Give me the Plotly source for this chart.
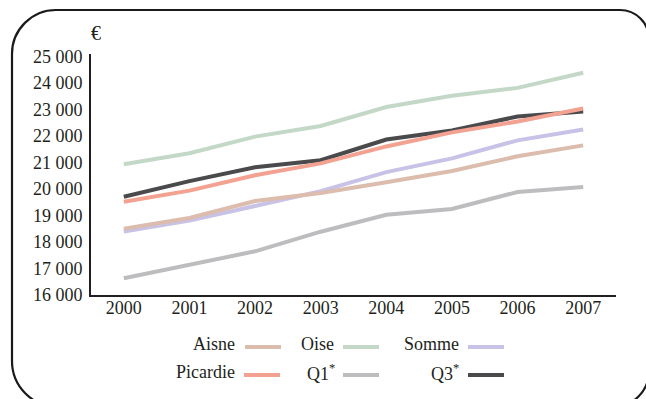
import plotly.graph_objects as go

years = [2000, 2001, 2002, 2003, 2004, 2005, 2006, 2007]
aisne = [18500, 18910, 19550, 19850, 20260, 20680, 21240, 21650]
oise = [20940, 21350, 21980, 22380, 23100, 23520, 23820, 24390]
somme = [18400, 18810, 19360, 19920, 20640, 21160, 21840, 22250]
picardie = [19520, 19940, 20520, 20970, 21610, 22140, 22550, 23040]
q1 = [16630, 17150, 17650, 18390, 19030, 19250, 19890, 20080]
q3 = [19710, 20300, 20820, 21090, 21870, 22210, 22740, 22930]
ytick_vals = [16000, 17000, 18000, 19000, 20000, 21000, 22000, 23000, 24000, 25000]
ytick_text = ["16 000", "17 000", "18 000", "19 000", "20 000", "21 000", "22 000", "23 000", "24 000", "25 000"]

C_AISNE = "#dcbcad"
C_OISE = "#c4d8c7"
C_SOMME = "#c7c2e6"
C_PIC = "#f3a292"
C_Q1 = "#bdbdbf"
C_Q3 = "#4a4a4c"
TXT = "#231f20"
FONT = "'Liberation Serif', 'Times New Roman', Times, serif"

W, H = 646, 399
L, R, T, B = 91, 30, 54, 104
PW, PH = W - L - R, H - T - B


def px(x):
    return (x - L) / PW


def py(y):
    return (H - B - y) / PH


fig = go.Figure()
order = [("Q1*", q1, C_Q1), ("Q3*", q3, C_Q3), ("Oise", oise, C_OISE),
         ("Somme", somme, C_SOMME), ("Aisne", aisne, C_AISNE), ("Picardie", picardie, C_PIC)]
for name, vals, col in order:
    fig.add_trace(go.Scatter(x=years, y=vals, mode="lines", name=name,
                             line=dict(color=col, width=4), showlegend=False, hoverinfo="skip"))

shapes = []
left, top, right, bottom = 12, 10, 649, 407
rtl, rtr, rbl, rbr = 44, 29, 46, 36
k = 0.5523


def P(x, y):
    return f"{px(x):.5f},{py(y):.5f}"


path = (f"M {P(left, bottom - rbl)} L {P(left, top + rtl)} "
        f"C {P(left, top + rtl - k*rtl)} {P(left + rtl - k*rtl, top)} {P(left + rtl, top)} "
        f"L {P(right - rtr, top)} "
        f"C {P(right - rtr + k*rtr, top)} {P(right, top + rtr - k*rtr)} {P(right, top + rtr)} "
        f"L {P(right, bottom - rbr)} "
        f"C {P(right, bottom - rbr + k*rbr)} {P(right - rbr + k*rbr, bottom)} {P(right - rbr, bottom)} "
        f"L {P(left + rbl, bottom)} "
        f"C {P(left + rbl - k*rbl, bottom)} {P(left, bottom - rbl + k*rbl)} {P(left, bottom - rbl)} Z")
shapes.append(dict(type="path", path=path, xref="paper", yref="paper",
                   line=dict(color="#1a1a1a", width=2.2), fillcolor="rgba(0,0,0,0)", layer="below"))

annotations = [dict(text="€", x=px(96), y=py(33), xref="paper", yref="paper",
                    showarrow=False, font=dict(family=FONT, size=20, color=TXT),
                    xanchor="center", yanchor="middle")]

legend_items = [
    ("Aisne", C_AISNE, 237, 245, 346),
    ("Oise", C_OISE, 336, 343, 346),
    ("Somme", C_SOMME, 461, 468, 346),
    ("Picardie", C_PIC, 237, 244, 374),
    ("Q1<sup>*</sup>", C_Q1, 337, 343, 374),
    ("Q3<sup>*</sup>", C_Q3, 461, 468, 374),
]
for text, col, tx, sx, yy in legend_items:
    annotations.append(dict(text=text, x=px(tx), y=py(yy - 2), xref="paper", yref="paper",
                            showarrow=False, xanchor="right", yanchor="middle",
                            font=dict(family=FONT, size=18, color=TXT)))
    shapes.append(dict(type="line", xref="paper", yref="paper",
                       x0=px(sx), x1=px(sx + 36), y0=py(yy + 1), y1=py(yy + 1),
                       line=dict(color=col, width=4)))

fig.update_layout(
    width=W, height=H,
    margin=dict(l=L, r=R, t=T, b=B, pad=0),
    paper_bgcolor="white", plot_bgcolor="white",
    font=dict(family=FONT, size=18, color=TXT),
    shapes=shapes, annotations=annotations,
    xaxis=dict(range=[1999.5, 2007.5], tickvals=years, ticktext=[str(y) for y in years],
               showgrid=False, zeroline=False, showline=True, linecolor="#231f20", linewidth=2,
               ticks="", ticklabelstandoff=-5, tickfont=dict(family=FONT, size=18, color=TXT)),
    yaxis=dict(range=[16000, 25100], tickvals=ytick_vals, ticktext=ytick_text,
               showgrid=False, zeroline=False, showline=True, linecolor="#231f20", linewidth=2,
               ticks="", ticklabelstandoff=3, tickfont=dict(family=FONT, size=18, color=TXT)),
)

fig.write_html("out.html", config={"displayModeBar": False, "staticPlot": True},
               post_script="document.body.style.margin='0';document.documentElement.style.margin='0';document.body.style.overflow='hidden';")
